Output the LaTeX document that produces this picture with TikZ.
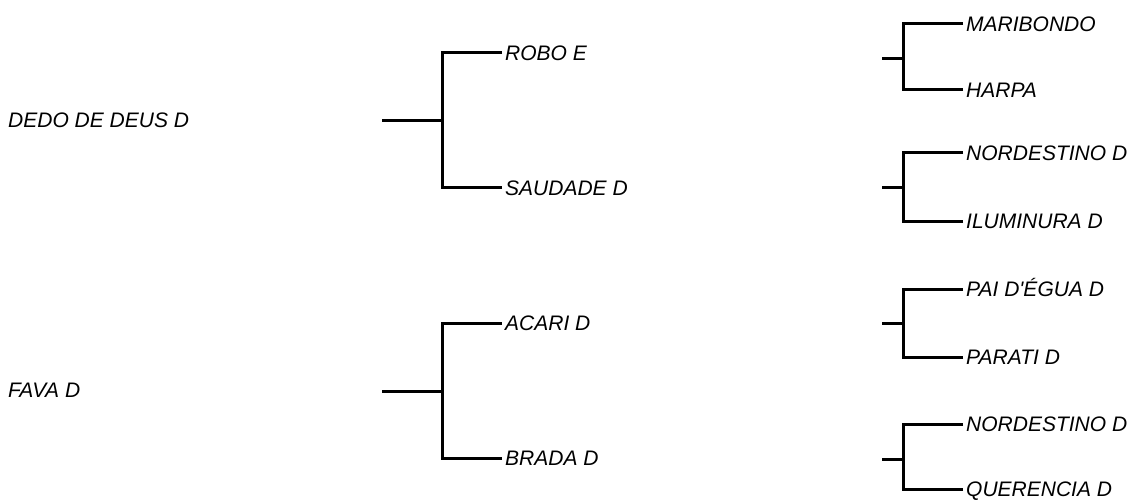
\documentclass[tikz,border=0pt]{standalone}
\usepackage{fontspec}
\setmainfont{Liberation Sans}
\begin{document}
\begin{tikzpicture}[x=1pt,y=-1pt,
  edge/.style={line width=3pt,line cap=butt,line join=miter},
  lbl/.style={font=\fontsize{21}{24}\selectfont\itshape,anchor=west,inner xsep=3pt,inner ysep=0pt,text height=15pt,text depth=0pt}]
\useasboundingbox (0,0) rectangle (1133,500);
% left labels
\node[lbl,inner xsep=0pt] (dedo) at (8,120) {DEDO DE DEUS D};
\node[lbl,inner xsep=0pt] (fava) at (8,390) {FAVA D};
% left trees
\coordinate (s1) at (382,121); \coordinate (j1) at (442,121);
\node[lbl] (robo) at (502,53) {ROBO E};
\node[lbl] (saudade) at (502,188) {SAUDADE D};
\draw[edge] (s1) -- (j1);
\draw[edge] (robo.west) -| (j1);
\draw[edge] (saudade.west) -| (j1);
\coordinate (s2) at (382,391); \coordinate (j2) at (442,391);
\node[lbl] (acari) at (502,323) {ACARI D};
\node[lbl] (brada) at (502,458) {BRADA D};
\draw[edge] (s2) -- (j2);
\draw[edge] (acari.west) -| (j2);
\draw[edge] (brada.west) -| (j2);
% right trees
\coordinate (s3) at (882,59); \coordinate (j3) at (903,59);
\node[lbl] (mari) at (963,24) {MARIBONDO};
\node[lbl] (harpa) at (963,90) {HARPA};
\draw[edge] (s3) -- (j3);
\draw[edge] (mari.west) -| (j3);
\draw[edge] (harpa.west) -| (j3);
\coordinate (s4) at (882,188); \coordinate (j4) at (903,188);
\node[lbl] (nord1) at (963,153) {NORDESTINO D};
\node[lbl] (ilum) at (963,221) {ILUMINURA D};
\draw[edge] (s4) -- (j4);
\draw[edge] (nord1.west) -| (j4);
\draw[edge] (ilum.west) -| (j4);
\coordinate (s5) at (882,323); \coordinate (j5) at (903,323);
\node[lbl] (pai) at (963,289) {PAI D\textquotesingle ÉGUA D};
\node[lbl] (parati) at (963,357) {PARATI D};
\draw[edge] (s5) -- (j5);
\draw[edge] (pai.west) -| (j5);
\draw[edge] (parati.west) -| (j5);
\coordinate (s6) at (882,459); \coordinate (j6) at (903,459);
\node[lbl] (nord2) at (963,424) {NORDESTINO D};
\node[lbl] (quer) at (963,489) {QUERENCIA D};
\draw[edge] (s6) -- (j6);
\draw[edge] (nord2.west) -| (j6);
\draw[edge] (quer.west) -| (j6);
\end{tikzpicture}
\end{document}
